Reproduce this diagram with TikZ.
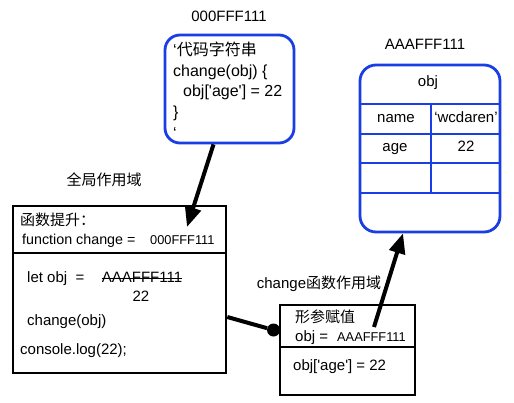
\documentclass[tikz,border=0pt]{standalone}
\usepackage{fontspec}
\setmainfont{Liberation Sans}[Ligatures=TeXOff]
\newfontfamily\cjk{Noto Sans CJK SC}
\usepackage{tikz}
\usetikzlibrary{arrows.meta}
\definecolor{memblue}{RGB}{24,62,228}
\tikzset{
  heap/.style={draw=memblue, line width=2.8pt, rounded corners=15pt, inner sep=0pt},
  heapline/.style={draw=memblue, line width=2.8pt},
  frame/.style={draw, line width=2.6pt, inner sep=0pt},
  txt/.style={inner sep=0pt, text height=0.72em, text depth=0.2em},
  small/.style={txt, anchor=west, font=\fontsize{12.8}{15}\selectfont},
  codeline/.style={txt, anchor=west, font=\fontsize{16}{20}\selectfont},
  ref/.style={line width=4pt, -{Triangle[length=20pt,width=16pt]}},
}

\begin{document}
\begin{tikzpicture}[x=1pt, y=-1pt, font=\fontsize{15}{18}\selectfont]
    \useasboundingbox (0,0) rectangle (514,402);
    \node[txt] (a0) at (229,19) {000FFF111};
    \node[heap, minimum width=129pt, minimum height=108pt] (code) at (229.5,89) {};
    \node[codeline] (c1) at (173,53) {‘{\cjk 代码字符串}};
    \node[codeline] (c2) at (173,74) {change(obj) \{};
    \node[codeline] (c3) at (183,94) {obj['age'] = 22};
    \node[codeline] (c4) at (173,115) {\}};
    \node[codeline] (c5) at (173,136) {‘};

    \node[txt] (a1) at (425,47) {AAAFFF111};
    \node[heap, minimum width=140pt, minimum height=167pt, rounded corners=16pt] (obj) at (430,148.5) {};
    \foreach \y in {104,134,163,193}
        \draw[heapline] (obj.west |- 0,\y) -- (obj.east |- 0,\y);
    \draw[heapline] (431,104) -- (431,193);
    \node[txt] (k0) at (428,84) {obj};
    \node[txt] (k1) at (396,120) {name};
    \node[txt] (v1) at (466,120) {‘wcdaren’};
    \node[txt] (k2) at (395,149) {age};
    \node[txt] (v2) at (466,149) {22};

    \node[txt] (g0) at (104,183) {\cjk 全局作用域};
    \node[frame, minimum width=213pt, minimum height=47pt] (hoist) at (119.5,229.5) {};
    \node[frame, minimum width=213pt, minimum height=120pt] (gbody) at (119.5,313) {};
    \node[txt, anchor=west] (h1) at (20,223) {\cjk 函数提升：};
    \node[txt, anchor=west, font=\fontsize{14.3}{17}\selectfont] (h2) at (22,242) {function change =};
    \node[small] (h3) at (150,242) {000FFF111};
    \node[txt, anchor=west] (b1) at (27,280) {let obj\ \ =};
    \node[txt] (strike) at (142,280) {AAAFFF111};
    \draw[line width=1.2pt] ([yshift=1.5pt]strike.west) -- ([yshift=1.5pt]strike.east);
    \node[txt] (b2) at (141,299) {22};
    \node[txt, anchor=west] (b3) at (27,323) {change(obj)};
    \node[txt, anchor=west] (b4) at (20,352) {console.log(22);};

    \node[txt] (f0) at (319,286) {change{\cjk 函数作用域}};
    \node[frame, minimum width=135pt, minimum height=42pt] (param) at (347.5,326) {};
    \node[frame, minimum width=135pt, minimum height=48pt] (fbody) at (347.5,371) {};
    \node[txt, anchor=west] (p1) at (295,320) {\cjk 形参赋值};
    \node[txt, anchor=west] (p2) at (295,339) {obj =};
    \node[small] (p3) at (337,339) {AAAFFF111};
    \node[txt, anchor=west] (p4) at (293,368) {obj['age'] = 22};

    \coordinate (t1) at (187,227);
    \coordinate (s2) at (374,327);
    \node[circle, fill, inner sep=0pt, minimum size=13pt] (dot) at (273.5,330) {};
    \draw[ref] ([xshift=-16pt]code.south) -- (t1);
    \draw[ref] (s2) -- ([xshift=-27pt]obj.south);
    \draw[line width=4pt] ([yshift=-4pt]gbody.east) -- (dot);
\end{tikzpicture}
\end{document}
